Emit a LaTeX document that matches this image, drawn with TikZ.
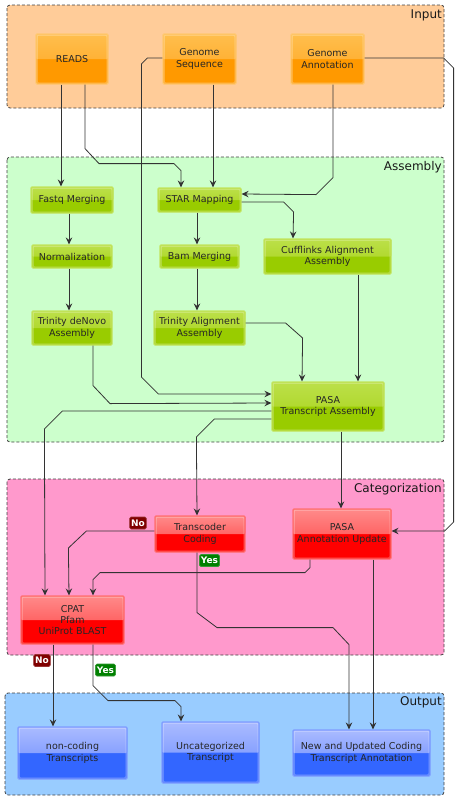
\documentclass[tikz,border=0pt]{standalone}
\usepackage{fontspec}
\setmainfont{DejaVu Sans}
\usetikzlibrary{arrows.meta}

\definecolor{inputbg}{HTML}{FFCC99}
\definecolor{assemblybg}{HTML}{CCFFCC}
\definecolor{categbg}{HTML}{FF99CC}
\definecolor{outputbg}{HTML}{99CCFF}
\definecolor{orgline}{HTML}{FFC870}
\definecolor{orgtop}{HTML}{FFBE4D}
\definecolor{orgmid}{HTML}{FFA61F}
\definecolor{orgfill}{HTML}{FF9900}
\definecolor{grnline}{HTML}{C2E45C}
\definecolor{grntop}{HTML}{BCE04A}
\definecolor{grnmid}{HTML}{A6D215}
\definecolor{grnfill}{HTML}{99CC00}
\definecolor{redline}{HTML}{FF7070}
\definecolor{redtop}{HTML}{FF8A8A}
\definecolor{redmid}{HTML}{FF4040}
\definecolor{redfill}{HTML}{FF0000}
\definecolor{bluline}{HTML}{7F9CFF}
\definecolor{blutop}{HTML}{AABBFF}
\definecolor{blumid}{HTML}{6688FF}
\definecolor{blufill}{HTML}{3366FF}
\definecolor{nored}{HTML}{800000}
\definecolor{yesgreen}{HTML}{008000}

\tikzset{
	frame/.style={draw=black!75, dash pattern=on 3pt off 2pt, line width=0.8pt, rounded corners=3pt, fill=#1},
	framelabel/.style={anchor=base east, inner sep=0pt, font=\fontsize{12}{14}\selectfont, text=black!90},
	glossy/.style n args={4}{draw=#1, fill=#4, line width=1.2pt, rounded corners=1pt, align=center, inner sep=1pt,
		text=black!85, font=\fontsize{9.5}{11.3}\selectfont,
		path picture={
			\fill[top color=#2, bottom color=#3] (path picture bounding box.north west) rectangle (path picture bounding box.east);
			\draw[white, opacity=0.35, line width=0.6pt] ([shift={(1.2pt,-1.2pt)}]path picture bounding box.north west) rectangle ([shift={(-1.2pt,1.2pt)}]path picture bounding box.south east);
		}},
	orangebox/.style={glossy={orgline}{orgtop}{orgmid}{orgfill}},
	greenbox/.style={glossy={grnline}{grntop}{grnmid}{grnfill}},
	redbox/.style={glossy={redline}{redtop}{redmid}{redfill}},
	bluebox/.style={glossy={bluline}{blutop}{blumid}{blufill}},
	sz/.style 2 args={minimum width=#1pt, minimum height=#2pt},
	answer/.style={fill=#1, draw=#1!80!white, line width=0.6pt, rounded corners=1.5pt, text=white, inner sep=1.5pt,
		minimum height=12pt, font=\fontsize{9}{10}\selectfont\bfseries},
	arr/.style={draw=black!80, line width=0.8pt, -{Stealth[length=7pt,width=6.5pt,inset=2.5pt]}},
}

\begin{document}
\begin{tikzpicture}[x=1pt,y=-1pt]
	\useasboundingbox (0,0) rectangle (459,801);

	\draw [frame=inputbg] (7,5) rectangle (444,108);
	\draw [frame=assemblybg] (7,157) rectangle (444,442);
	\draw [frame=categbg] (7,479) rectangle (444,655);
	\draw [frame=outputbg] (5,693) rectangle (444,795);
	\node [framelabel] (lbinput) at (442,18) {Input};
	\node [framelabel] (lbassembly) at (442,170) {Assembly};
	\node [framelabel] (lbcateg) at (442,492) {Categorization};
	\node [framelabel] (lboutput) at (442,705) {Output};

	\node [orangebox, sz={72}{50}] (reads) at (72,59) {READS};
	\node [orangebox, sz={73}{50}] (gseq) at (199.5,59) {Genome\\Sequence};
	\node [orangebox, sz={73}{50}] (gann) at (327.5,59) {Genome\\Annotation};

	\node [greenbox, sz={82}{26}] (fastq) at (72,200) {Fastq Merging};
	\node [greenbox, sz={83}{24}] (star) at (199.5,200) {STAR Mapping};
	\node [greenbox, sz={80}{23}] (norm) at (72,256.5) {Normalization};
	\node [greenbox, sz={79}{23}] (bam) at (199.5,256.5) {Bam Merging};
	\node [greenbox, sz={127}{35}] (cuff) at (327.5,256.5) {Cufflinks Alignment\\Assembly};
	\node [greenbox, sz={80}{34}] (denovo) at (72,328) {Trinity deNovo\\Assembly};
	\node [greenbox, sz={91}{34}] (talign) at (199.5,328) {Trinity Alignment\\Assembly};
	\node [greenbox, sz={112}{49}] (pasa) at (328,406.5) {PASA\\Transcript Assembly};

	\node [redbox, sz={90}{36}] (transc) at (200,534) {Transcoder\\Coding};
	\node [redbox, sz={98}{50}] (pasaau) at (342,534) {PASA\\Annotation Update};
	\node [redbox, sz={103}{48}] (cpat) at (72.5,620) {CPAT\\Pfam\\UniProt BLAST};

	\node [bluebox, sz={109}{52}] (noncod) at (72.5,753) {non-coding\\Transcripts};
	\node [bluebox, sz={97}{61}] (uncat) at (210.5,752.5) {Uncategorized\\Transcript};
	\node [bluebox, sz={137}{46}] (newann) at (361.5,753) {New and Updated Coding\\Transcript Annotation};

	\draw [arr] ([xshift=-11pt]reads.south) -- ([xshift=-11pt]fastq.north);
	\draw [arr] ([xshift=13pt]reads.south) -- ++(0,64) -- ++(14,15) -- ++(75,0) -- ++(7,7) -- ([xshift=-18.5pt]star.north);
	\draw [arr] ([xshift=13.5pt]gseq.south) -- ([xshift=13.5pt]star.north);
	\draw [arr] ([yshift=1pt]gseq.west) -- ++(-15,0) -- ++(-6,6) -- ++(0,313) -- ++(17,17) -- ([yshift=12.5pt]pasa.west);
	\draw [arr] ([xshift=5.5pt]gann.south) -- ++(0,93) -- ++(-17,17) -- ([yshift=6pt]star.east);
	\draw [arr] ([yshift=1pt]gann.east) -- ++(79,0) -- ++(10,10) -- ++(0,454) -- ++(-9,9) -- ([yshift=3pt]pasaau.east);

	\draw [arr] ([yshift=-2pt]star.east) -- ++(42,0) -- ++(10,10) -- ([xshift=-34.5pt]cuff.north);
	\draw [arr] ([xshift=-2.5pt]star.south) -- ([xshift=-2.5pt]bam.north);
	\draw [arr] ([xshift=-3pt]fastq.south) -- ([xshift=-3pt]norm.north);
	\draw [arr] ([xshift=-3pt]norm.south) -- ([xshift=-3pt]denovo.north);
	\draw [arr] ([xshift=-2.5pt]bam.south) -- ([xshift=-2.5pt]talign.north);
	\draw [arr] ([yshift=5pt]talign.east) -- ++(40,0) -- ++(17,15) -- ([xshift=-26pt]pasa.north);
	\draw [arr] ([xshift=30.5pt]cuff.south) -- ([xshift=30pt]pasa.north);
	\draw [arr] ([xshift=21pt]denovo.south) -- ++(0,40) -- ++(17,18) -- ([yshift=3.5pt]pasa.west);

	\draw [arr] ([yshift=-4.5pt]pasa.west) -- ++(-209,0) -- ++(-18,18) -- ([xshift=-27.5pt]cpat.north);
	\draw [arr] ([yshift=-12.5pt]pasa.west) -- ++(-57,0) -- ++(-18,18) -- ([xshift=-3pt]transc.north);
	\draw [arr] ([xshift=13pt]pasa.south) -- ([xshift=-1pt]pasaau.north);

	\draw [arr] ([yshift=3pt]transc.west) -- ++(-68,0) -- ++(-18,17) -- ([xshift=-3.5pt]cpat.north);
	\draw [arr] ([xshift=-32pt]pasaau.south) -- ++(0,8) -- ++(-5,5) -- ++(-205,0) -- ++(-7,7) -- ([xshift=20.5pt]cpat.north);
	\draw [arr] ([xshift=-3pt]transc.south) -- ++(0,60) -- ++(20,15) -- ++(116,0) -- ++(16,17) -- ([xshift=-12.5pt]newann.north);
	\draw [arr] ([xshift=31pt]pasaau.south) -- ([xshift=11.5pt]newann.north);
	\draw [arr] ([xshift=-19.5pt]cpat.south) -- ([xshift=-19.5pt]noncod.north);
	\draw [arr] ([xshift=20.5pt]cpat.south) -- ++(0,41) -- ++(15,15) -- ++(67,0) -- ++(6,6) -- ([xshift=-29.5pt]uncat.north);

	\node [answer=nored] (notransc) at (138,523) {No};
	\node [answer=yesgreen] (yestransc) at (209.5,560.5) {Yes};
	\node [answer=nored] (nocpat) at (42,660.5) {No};
	\node [answer=yesgreen] (yescpat) at (105.5,670) {Yes};
\end{tikzpicture}
\end{document}
